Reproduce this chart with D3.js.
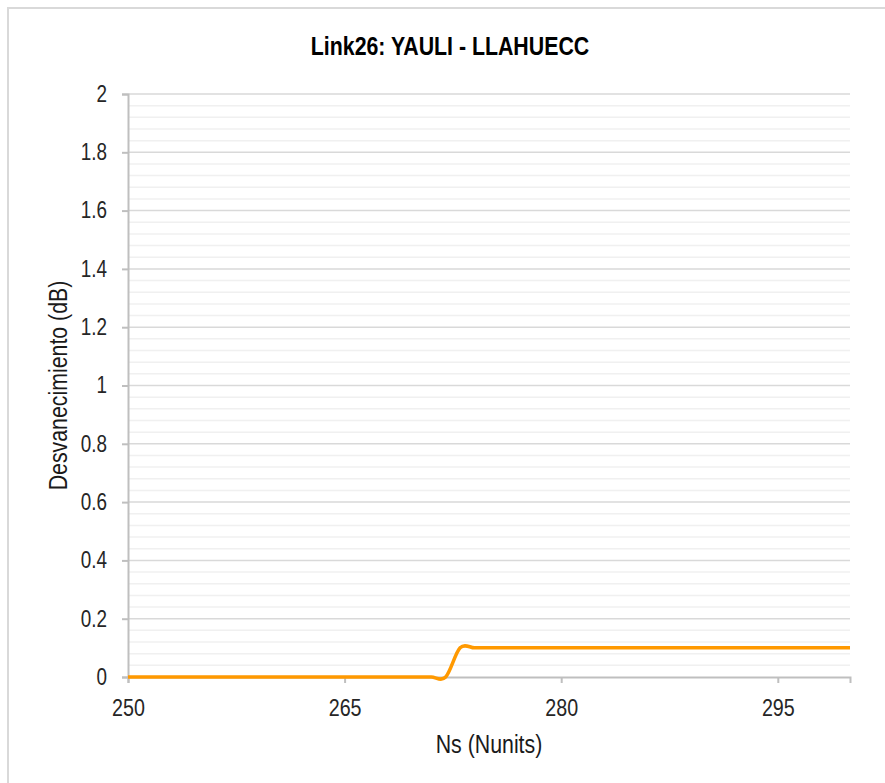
<!DOCTYPE html>
<html>
<head>
<meta charset="utf-8">
<script src="https://cdn.jsdelivr.net/npm/d3@7"></script>
<style>
  html, body { margin: 0; padding: 0; background: #fff; }
  svg { display: block; }
  text { font-family: 'Liberation Sans Narrow', 'Arial Narrow', 'Liberation Sans', Arial, sans-serif; }
</style>
</head>
<body>
<script>
// Link26 fade (dB) versus Ns
const chartTitle = "Link26: YAULI - LLAHUECC";
const xTitle = "Ns (Nunits)";
const yTitle = "Desvanecimiento (dB)";

const ns = [250, 251, 252, 253, 254, 255, 256, 257, 258, 259,
            260, 261, 262, 263, 264, 265, 266, 267, 268, 269,
            270, 271, 272, 273, 274, 275, 276, 277, 278, 279,
            280, 281, 282, 283, 284, 285, 286, 287, 288, 289,
            290, 291, 292, 293, 294, 295, 296, 297, 298, 299, 300];
const fade = [0, 0, 0, 0, 0, 0, 0, 0, 0, 0,
              0, 0, 0, 0, 0, 0, 0, 0, 0, 0,
              0, 0, 0, 0.1, 0.1, 0.1, 0.1, 0.1, 0.1, 0.1,
              0.1, 0.1, 0.1, 0.1, 0.1, 0.1, 0.1, 0.1, 0.1, 0.1,
              0.1, 0.1, 0.1, 0.1, 0.1, 0.1, 0.1, 0.1, 0.1, 0.1, 0.1];

const xTicks = [250, 265, 280, 295];
const yTicks = [0, 0.2, 0.4, 0.6, 0.8, 1, 1.2, 1.4, 1.6, 1.8, 2];
const yMinor = [0.04, 0.08, 0.12, 0.16, 0.24, 0.28, 0.32, 0.36, 0.44, 0.48, 0.52, 0.56,
                0.64, 0.68, 0.72, 0.76, 0.84, 0.88, 0.92, 0.96, 1.04, 1.08, 1.12, 1.16,
                1.24, 1.28, 1.32, 1.36, 1.44, 1.48, 1.52, 1.56, 1.64, 1.68, 1.72, 1.76,
                1.84, 1.88, 1.92, 1.96];

const W = 885, H = 783;
const plot = { left: 128, right: 850, top: 94, bottom: 677 };
const NARROW = 0.82; // horizontal squeeze that gives a narrow face

// squeeze text horizontally while keeping its anchor
function narrow(sel) {
  sel.each(function () {
    const len = this.getComputedTextLength();
    d3.select(this).attr("textLength", len * NARROW).attr("lengthAdjust", "spacingAndGlyphs");
  });
}

const svg = d3.select("body").append("svg").attr("width", W).attr("height", H);

// outer chart frame
svg.append("rect")
  .attr("x", 8).attr("y", 8).attr("width", W + 10).attr("height", H + 10)
  .attr("fill", "#fff").attr("stroke", "#d9d9d9").attr("stroke-width", 2);

const x = d3.scaleLinear().domain([250, 300]).range([plot.left, plot.right]);
const y = d3.scaleLinear().domain([0, 2]).range([plot.bottom, plot.top]);

// minor gridlines
svg.append("g").selectAll("line").data(yMinor).join("line")
  .attr("x1", plot.left).attr("x2", plot.right)
  .attr("y1", d => y(d)).attr("y2", d => y(d))
  .attr("stroke", "#f0f0f0").attr("stroke-width", 1.5);

// major gridlines
svg.append("g").selectAll("line").data(yTicks.filter(d => d > 0)).join("line")
  .attr("x1", plot.left).attr("x2", plot.right)
  .attr("y1", d => y(d)).attr("y2", d => y(d))
  .attr("stroke", "#d9d9d9").attr("stroke-width", 1.5);

// y axis
const yAxis = svg.append("g")
  .attr("transform", `translate(${plot.left},0)`)
  .call(d3.axisLeft(y).tickValues(yTicks).tickSize(6).tickPadding(15)
        .tickFormat(d => String(d)));
yAxis.select(".domain").attr("stroke", "#bfbfbf").attr("stroke-width", 2);
yAxis.selectAll(".tick line").attr("stroke", "#bfbfbf").attr("stroke-width", 2);
yAxis.selectAll(".tick text").attr("fill", "#262626").style("font-size", "23px").call(narrow);

// x axis
const xAxis = svg.append("g")
  .attr("transform", `translate(0,${plot.bottom})`)
  .call(d3.axisBottom(x).tickValues(xTicks).tickSize(6)
        .tickFormat(d => String(d)));
xAxis.select(".domain").attr("stroke", "#bfbfbf").attr("stroke-width", 2);
xAxis.selectAll(".tick line").attr("stroke", "#bfbfbf").attr("stroke-width", 2);
xAxis.selectAll(".tick text")
  .attr("y", 39).attr("dy", 0)
  .attr("fill", "#262626").style("font-size", "24px").call(narrow);

// series
const pts = ns.map((n, i) => [n, fade[i]]);
svg.append("path")
  .datum(pts)
  .attr("fill", "none")
  .attr("stroke", "#ff9900")
  .attr("stroke-width", 3.5)
  .attr("stroke-linejoin", "round")
  .attr("d", d3.line().x(d => x(d[0])).y(d => y(d[1])).curve(d3.curveCatmullRom.alpha(0)));

// titles
svg.append("text")
  .attr("x", 450).attr("y", 55)
  .attr("text-anchor", "middle")
  .attr("fill", "#000")
  .style("font-size", "26px").style("font-weight", "bold")
  .text(chartTitle)
  .call(narrow);

svg.append("text")
  .attr("x", (plot.left + plot.right) / 2).attr("y", 753)
  .attr("text-anchor", "middle")
  .attr("fill", "#1a1a1a")
  .style("font-size", "26px")
  .text(xTitle)
  .call(narrow);

svg.append("text")
  .attr("transform", `translate(67,${(plot.top + plot.bottom) / 2}) rotate(-90)`)
  .attr("text-anchor", "middle")
  .attr("fill", "#1a1a1a")
  .style("font-size", "26px")
  .text(yTitle)
  .call(narrow);
</script>
</body>
</html>
